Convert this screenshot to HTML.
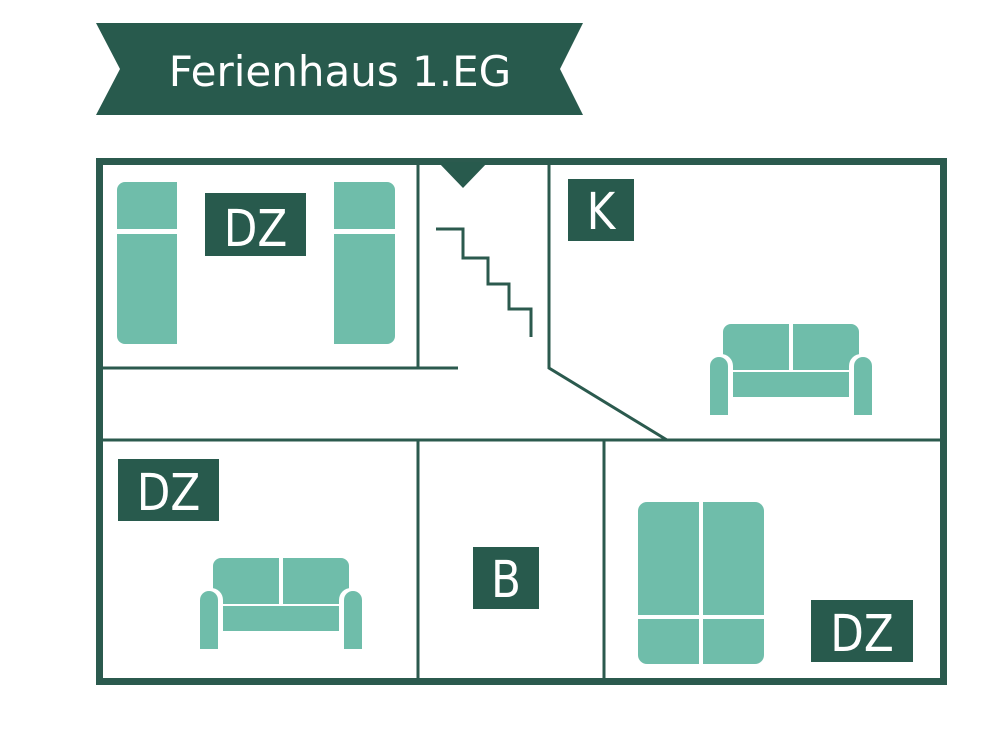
<!DOCTYPE html>
<html><head><meta charset="utf-8"><style>
html,body{margin:0;padding:0;background:#fff;width:1000px;height:753px;overflow:hidden}
svg{display:block}
text{font-family:"DejaVu Sans","Liberation Sans",sans-serif;fill:#fff}
</style></head><body>
<svg width="1000" height="753" viewBox="0 0 1000 753">
<defs>
<g id="sofa">
 <rect x="13" y="0" width="136" height="46" rx="8" fill="#6fbdaa"/>
 <rect x="79" y="0" width="4" height="46" fill="#fff"/>
 <rect x="22" y="48" width="118" height="25" fill="#6fbdaa"/>
 <rect x="-3" y="30" width="26" height="64" rx="12" fill="#fff"/>
 <rect x="139" y="30" width="26" height="64" rx="12" fill="#fff"/>
 <rect x="0" y="33" width="18" height="58" rx="9" fill="#6fbdaa"/>
 <rect x="0" y="50" width="18" height="41" fill="#6fbdaa"/>
 <rect x="144" y="33" width="18" height="58" rx="9" fill="#6fbdaa"/>
 <rect x="144" y="50" width="18" height="41" fill="#6fbdaa"/>
</g>
</defs>
<polygon points="96,23 583,23 560,69 583,115 96,115 120,69" fill="#285a4d"/>
<text x="340" y="86" font-size="42" text-anchor="middle">Ferienhaus 1.EG</text>
<g stroke="#2b5a4e" fill="none">
 <rect x="99.5" y="161.5" width="844" height="520" stroke-width="7"/>
 <g stroke-width="3">
  <line x1="418" y1="162" x2="418" y2="368"/>
  <line x1="103" y1="368" x2="458" y2="368"/>
  <polyline points="549,162 549,368 667,440"/>
  <line x1="103" y1="440" x2="940" y2="440"/>
  <line x1="418" y1="440" x2="418" y2="678"/>
  <line x1="604" y1="440" x2="604" y2="678"/>
  <polyline points="436,229 463,229 463,258 488,258 488,284 509,284 509,309 531,309 531,337"/>
 </g>
</g>
<polygon points="438,162 488,162 463,188" fill="#285a4d"/>
<rect x="117" y="182" width="60" height="162" rx="8" fill="#6fbdaa"/>
<rect x="165" y="182" width="12" height="162" fill="#6fbdaa"/>
<rect x="117" y="229" width="60" height="5" fill="#fff"/>
<rect x="334" y="182" width="61" height="162" rx="8" fill="#6fbdaa"/>
<rect x="334" y="182" width="12" height="162" fill="#6fbdaa"/>
<rect x="334" y="229" width="61" height="5" fill="#fff"/>
<rect x="205" y="193" width="101" height="63" fill="#285a4d"/>
<text transform="translate(255.5,246) scale(0.95,1.1)" font-size="46" text-anchor="middle">DZ</text>
<rect x="568" y="179" width="66" height="62" fill="#285a4d"/>
<text transform="translate(601,229) scale(0.95,1.1)" font-size="46" text-anchor="middle">K</text>
<rect x="118" y="459" width="101" height="62" fill="#285a4d"/>
<text transform="translate(168.5,510) scale(0.95,1.1)" font-size="46" text-anchor="middle">DZ</text>
<rect x="473" y="547" width="66" height="62" fill="#285a4d"/>
<text transform="translate(506,597) scale(0.95,1.1)" font-size="46" text-anchor="middle">B</text>
<rect x="811" y="600" width="102" height="62" fill="#285a4d"/>
<text transform="translate(862,651) scale(0.95,1.1)" font-size="46" text-anchor="middle">DZ</text>
<use href="#sofa" x="710" y="324"/>
<use href="#sofa" x="200" y="558"/>
<rect x="638" y="502" width="126" height="162" rx="9" fill="#6fbdaa"/>
<rect x="699" y="502" width="4" height="162" fill="#fff"/>
<rect x="638" y="615" width="126" height="4" fill="#fff"/>
</svg>
</body></html>
